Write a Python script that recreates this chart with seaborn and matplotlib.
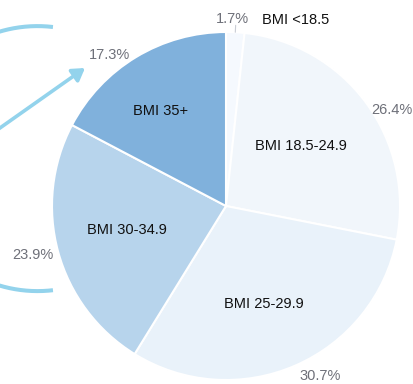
import numpy as np
import matplotlib
matplotlib.use("Agg")
import matplotlib.pyplot as plt
from matplotlib.patches import FancyArrowPatch
import seaborn as sns

# BMI distribution
categories = ["BMI <18.5", "BMI 18.5-24.9", "BMI 25-29.9", "BMI 30-34.9", "BMI 35+"]
shares = [1.7, 26.4, 30.7, 23.9, 17.3]
pct_labels = ["1.7%", "26.4%", "30.7%", "23.9%", "17.3%"]

sns.set_theme(style="white")
plt.rcParams["font.family"] = ["Liberation Sans", "DejaVu Sans"]

palette = sns.color_palette(["#f5f9fe", "#f1f6fb", "#e9f2fa", "#b7d4ec", "#80b1dc"])

W, H = 413, 384
fig = plt.figure(figsize=(W / 100, H / 100), dpi=100)
ax = fig.add_axes([0, 0, 1, 1])

cx, cy, R = 226, 178, 174
wedges, _ = ax.pie(shares, colors=palette, startangle=90, counterclock=False,
                   center=(cx, cy), radius=R,
                   wedgeprops=dict(edgecolor="white", linewidth=1.5))

# pixel-based coordinate frame for the whole canvas
ax.set_xlim(0, W)
ax.set_ylim(0, H)
ax.set_aspect("equal")
ax.axis("off")

# label placement, offsets from the pie centre in pixels
pct_offsets = [(6, 187), (166, 96), (94, -170), (-193, -49), (-116, 151)]
name_offsets = [(70, 186), (75, 60), (38, -98), (-99, -24), (-65, 95)]

for lab, (dx, dy) in zip(pct_labels, pct_offsets):
    ax.text(cx + dx, cy + dy, lab, ha="center", va="center",
            fontsize=10.5, color="#6e7079")

for name, (dx, dy) in zip(categories, name_offsets):
    ax.text(cx + dx, cy + dy, name, ha="center", va="center",
            fontsize=10.5, color="#111111")

# short leader line for the thin slice
w0 = wedges[0]
mid = np.deg2rad((w0.theta1 + w0.theta2) / 2)
ax.plot([cx + R * np.cos(mid), cx + 1.04 * R * np.cos(mid)],
        [cy + R * np.sin(mid), cy + 1.04 * R * np.sin(mid)],
        color="#c8ccd4", lw=0.8)

# decorative bracket arc (mostly off-canvas) and pointer arrow on the left
t = np.deg2rad(np.linspace(83.3, 276.7, 400))
ax.plot(37.5 + 132.5 * np.cos(t), 225.4 + 132.5 * np.sin(t),
        color="#93d3ec", lw=2.9, solid_capstyle="butt")
ax.add_patch(FancyArrowPatch((-10, 249), (85, 316),
                             arrowstyle="-|>,head_length=4.5,head_width=2.8",
                             color="#93d3ec", lw=2.6, mutation_scale=1.6,
                             shrinkA=0, shrinkB=0))

fig.savefig("out.png", dpi=100)
